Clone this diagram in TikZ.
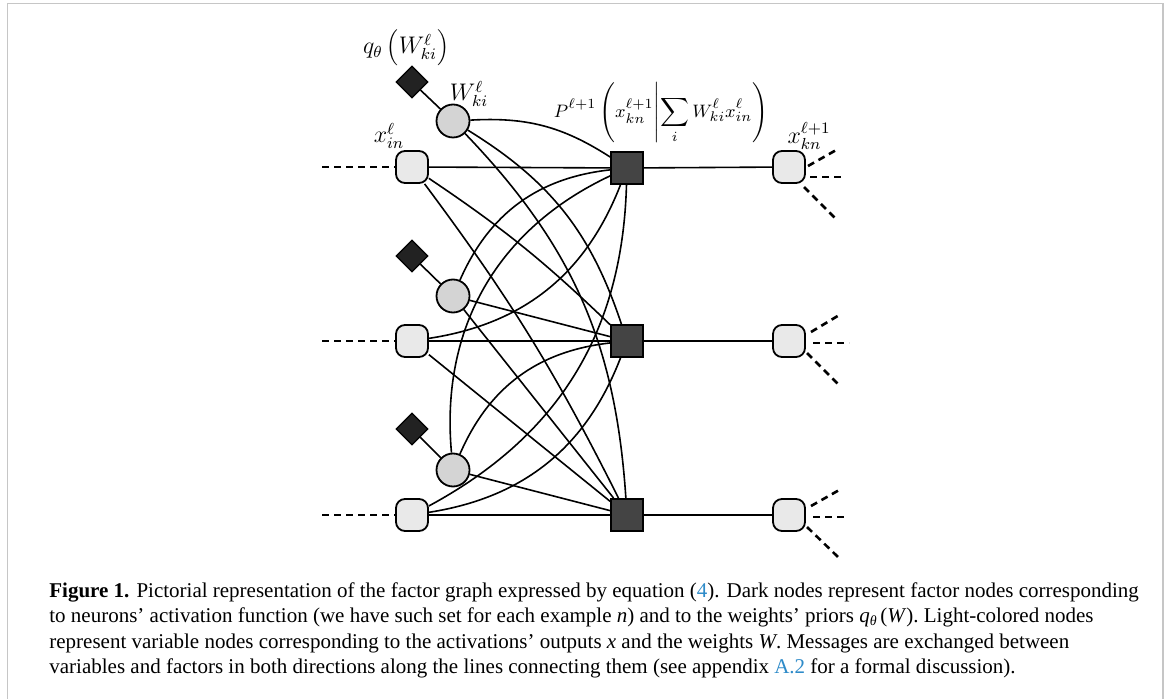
\documentclass[tikz,border=0pt]{standalone}
\usepackage{fontspec}
\setmainfont{Liberation Serif}
\usetikzlibrary{shapes.geometric,calc}
\definecolor{xfill}{HTML}{E9E9E9}
\definecolor{wfill}{HTML}{D4D4D4}
\definecolor{dfill}{HTML}{222222}
\definecolor{ffill}{HTML}{444444}
\definecolor{linkblue}{HTML}{2E8BC9}
\definecolor{framegray}{HTML}{C6C6C6}
\begin{document}
\begin{tikzpicture}[x=0.5pt,y=-0.5pt,
  varx/.style={draw=black,line width=0.9pt,fill=xfill,rounded corners=4.5pt,minimum size=16pt,inner sep=0pt},
  varw/.style={circle,draw=black,line width=0.9pt,fill=wfill,minimum size=16.5pt,inner sep=0pt},
  prior/.style={diamond,draw=black,line width=0.6pt,fill=dfill,minimum size=16pt,inner sep=0pt},
  fac/.style={draw=black,line width=0.9pt,fill=ffill,minimum size=16pt,inner sep=0pt},
  edge/.style={line width=0.8pt},
  dline/.style={line width=1.3pt,dash pattern=on 3.5pt off 2.5pt},
  lab/.style={inner sep=0pt,font=\fontsize{11.8}{14}\selectfont},
  plab/.style={inner sep=0pt,font=\fontsize{9.3}{11}\selectfont},
  captxt/.style={anchor=base west,inner sep=0pt,font=\fontsize{10.5}{12}\selectfont}]
\useasboundingbox (0,0) rectangle (1170,699);
\fill[white] (0,0) rectangle (1170,699);
\draw[framegray,line width=0.8pt] (7.5,699) -- (7.5,3.5) -- (1163,3.5) -- (1163,699);

% nodes
\node[prior] (D1) at (412,82) {};
\node[prior] (D2) at (412,256) {};
\node[prior] (D3) at (412,429) {};
\node[varw] (W1) at (453,121) {};
\node[varw] (W2) at (453,296) {};
\node[varw] (W3) at (453,470) {};
\node[varx] (X1) at (412,167) {};
\node[varx] (X2) at (412,341) {};
\node[varx] (X3) at (412,515) {};
\node[fac] (F1) at (627,168) {};
\node[fac] (F2) at (627,341) {};
\node[fac] (F3) at (627,515) {};
\node[varx] (O1) at (789,167) {};
\node[varx] (O2) at (789,341) {};
\node[varx] (O3) at (789,515) {};

% labels
\node[lab] (Lq) at (406,48) {$q_\theta\left(W^\ell_{ki}\right)$};
\node[lab] (Lw) at (469,94) {$W^\ell_{ki}$};
\node[lab] (Lx) at (389,136) {$x^\ell_{in}$};
\node[plab] (Lp) at (661,113) {$\displaystyle P^{\ell+1}\left(x^{\ell+1}_{kn}\middle|\sum_i W^\ell_{ki}x^\ell_{in}\right)$};
\node[lab] (Lo) at (809,136) {$x^{\ell+1}_{kn}$};

% prior edges
\draw[edge] (D1) -- (W1);
\draw[edge] (D2) -- (W2);
\draw[edge] (D3) -- (W3);

% x edges
\draw[edge] (X1) -- (F1);
\draw[edge] (X2) -- (F2);
\draw[edge] (X3) -- (F3);
\draw[edge] (X1) to[bend left=5] (F2);
\draw[edge] (X1) to[bend left=5] (F3);
\draw[edge] (X2) -- (F3);
\draw[edge] (X2) to[bend right=30] (F1);
\draw[edge] (X3) to[bend right=30] (F2);
\draw[edge] (X3) to[bend right=30] (F1);

% w edges
\draw[edge] (W1) to[bend left=18] (F1);
\draw[edge] (W1) to[bend left=20] (F2);
\draw[edge] (W1) to[bend left=20] (F3);
\draw[edge] (W2) -- (F2);
\draw[edge] (W2) -- (F3);
\draw[edge] (W2) to[bend left=30] (F1);
\draw[edge] (W3) -- (F3);
\draw[edge] (W3) to[bend left=30] (F2);
\draw[edge] (W3) to[bend left=35] (F1);

% outputs
\draw[edge] (F1) -- (O1);
\draw[edge] (F2) -- (O2);
\draw[edge] (F3) -- (O3);

% dashed stubs
\coordinate (A1) at (322,167);
\coordinate (A2) at (322,341);
\coordinate (A3) at (322,515);
\draw[dline] (A1) -- (X1);
\draw[dline] (A2) -- (X2);
\draw[dline] (A3) -- (X3);
\draw[dline] (808,166) -- (838,149);
\draw[dline] (810,177) -- (846,177);
\draw[dline] (804,187) -- (835,218);
\draw[dline] (811,332) -- (841,314);
\draw[dline] (813,343) -- (849,343);
\draw[dline] (807,353) -- (838,384);
\draw[dline] (811,506) -- (841,489);
\draw[dline] (813,517) -- (848,517);
\draw[dline] (807,527) -- (838,557);

% caption
\node[captxt] (c1) at (49,597) {\textbf{Figure 1.} Pictorial representation of the factor graph expressed by equation (\textcolor{linkblue}{4}). Dark nodes represent factor nodes corresponding};
\node[captxt] (c2) at (49,622.5) {to neurons’ activation function (we have such set for each example \textit{n}) and to the weights’ priors \textit{q}\raisebox{-0.35ex}{\scriptsize\textit{θ}}\,(\textit{W}). Light-colored nodes};
\node[captxt] (c3) at (49,648) {represent variable nodes corresponding to the activations’ outputs \textit{x} and the weights \textit{W}. Messages are exchanged between};
\node[captxt] (c4) at (49,673.5) {variables and factors in both directions along the lines connecting them (see appendix \textcolor{linkblue}{A.2} for a formal discussion).};
\end{tikzpicture}
\end{document}
